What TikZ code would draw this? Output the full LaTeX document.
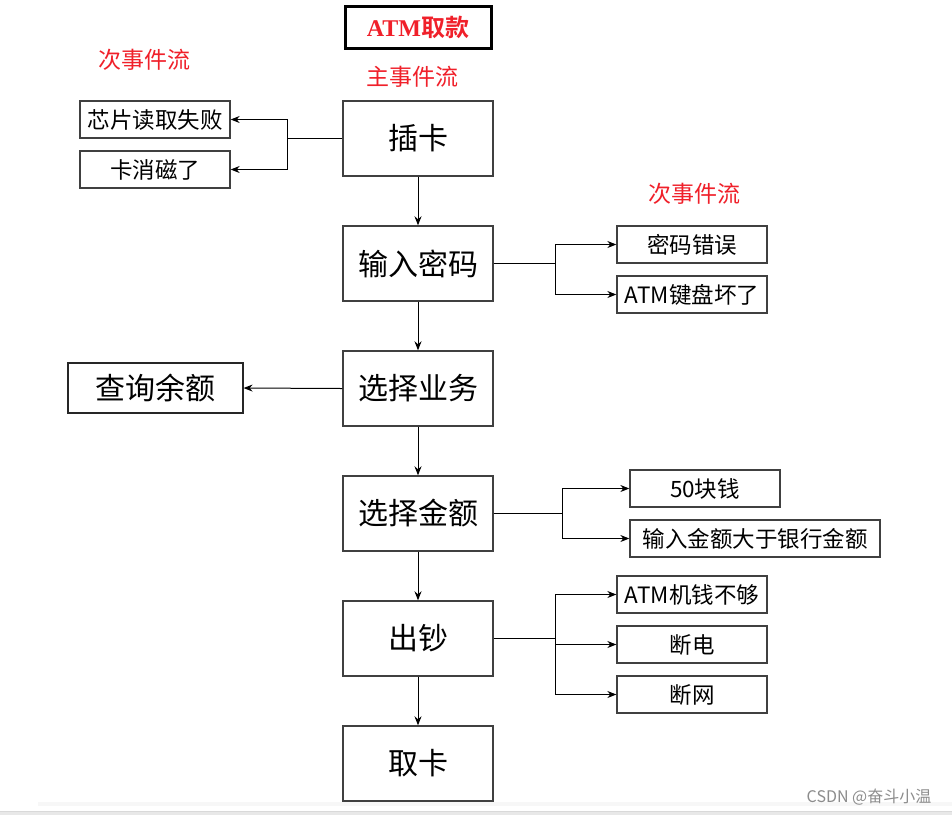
\documentclass[tikz,border=0pt]{standalone}
\usepackage{fontspec}
\setmainfont{Liberation Sans}
\newfontfamily\cjk{Noto Sans CJK SC}
\newfontfamily\cjkb{Noto Sans CJK SC}[BoldFont={* Bold}]
\newfontfamily\serifl{Liberation Serif}
\usetikzlibrary{arrows.meta}
\definecolor{boxline}{HTML}{404040}
\definecolor{redtxt}{HTML}{F0202A}
\begin{document}
\begin{tikzpicture}[x=1pt,y=-1pt,
  mainbox/.style={draw=boxline,line width=1.4pt,minimum width=150pt,minimum height=75pt,inner sep=0pt,font=\cjk\fontsize{30}{32}\selectfont},
  subbox/.style={draw=boxline,line width=1.3pt,minimum height=37pt,inner sep=0pt,font=\cjk\fontsize{22.5}{25}\selectfont},
  redlab/.style={text=redtxt,font=\cjk\fontsize{23}{25}\selectfont,inner sep=0pt},
  conn/.style={draw=black,line width=1pt,-{Stealth[length=9pt,width=7pt]}},
  plain/.style={draw=black,line width=1pt}]
\useasboundingbox (0,0) rectangle (952,815);
\fill[white] (0,0) rectangle (952,815);
\fill[black!3] (38,802) rectangle (952,806);
\fill[black!9] (0,811) rectangle (952,815);
\draw[black!15,line width=0.6pt] (0,811) -- (952,811);

% title
\node[draw=black,line width=3pt,minimum width=146pt,minimum height=42pt,inner sep=0pt,text=redtxt,font=\cjkb\bfseries\fontsize{24}{26}\selectfont] (title) at (418,27) {{\serifl\bfseries ATM}取款};
\node[redlab] (mainlab) at (412,77) {主事件流};
\node[redlab] (sublab1) at (144,60) {次事件流};
\node[redlab] (sublab2) at (694,194) {次事件流};

% main flow
\node[mainbox] (m1) at (418,138.5) {插卡};
\node[mainbox] (m2) at (418,263.5) {输入密码};
\node[mainbox] (m3) at (418,388.5) {选择业务};
\node[mainbox] (m4) at (418,513.5) {选择金额};
\node[mainbox] (m5) at (418,638.5) {出钞};
\node[mainbox] (m6) at (418,763.5) {取卡};
\foreach \a/\b in {m1/m2,m2/m3,m3/m4,m4/m5,m5/m6}
  \draw[conn] (\a.south) -- (\b.north);

% left of 插卡
\node[subbox,minimum width=150pt] (a1) at (155,119.5) {芯片读取失败};
\node[subbox,minimum width=150pt] (a2) at (155,169.5) {卡消磁了};
\coordinate (ja) at (287,138.5);
\draw[plain] (m1.west) -- (ja);
\draw[conn] (ja) |- (a1.east);
\draw[conn] (ja) |- (a2.east);

% right of 输入密码
\node[subbox,minimum width=150pt] (b1) at (692,244.5) {密码错误};
\node[subbox,minimum width=150pt] (b2) at (692,294.5) {ATM键盘坏了};
\coordinate (jb) at (555,263.5);
\draw[plain] (m2.east) -- (jb);
\draw[conn] (jb) |- (b1.west);
\draw[conn] (jb) |- (b2.west);

% 查询余额
\node[draw=black!85,line width=1.2pt,minimum width=175pt,minimum height=50pt,inner sep=0pt,font=\cjk\fontsize{30}{32}\selectfont] (c1) at (155.5,388) {查询余额};
\draw[conn] (m3.west) -- (c1.east);

% right of 选择金额
\node[subbox,minimum width=150pt] (d1) at (705,488.5) {50块钱};
\node[subbox,minimum width=250pt] (d2) at (755,538.5) {输入金额大于银行金额};
\coordinate (jd) at (562,513.5);
\draw[plain] (m4.east) -- (jd);
\draw[conn] (jd) |- (d1.west);
\draw[conn] (jd) |- (d2.west);

% right of 出钞
\node[subbox,minimum width=150pt] (e1) at (692,594.5) {ATM机钱不够};
\node[subbox,minimum width=150pt] (e2) at (692,644.5) {断电};
\node[subbox,minimum width=150pt] (e3) at (692,694.5) {断网};
\coordinate (je) at (555,638.5);
\draw[plain] (m5.east) -- (je);
\draw[conn] (je) |- (e1.west);
\draw[conn] (je) |- (e2.west);
\draw[conn] (je) |- (e3.west);

% watermark
\node[text=black!45,font=\cjk\fontsize{16}{18}\selectfont,inner sep=0pt] (wm) at (869,797) {CSDN @奋斗小温};
\end{tikzpicture}
\end{document}
